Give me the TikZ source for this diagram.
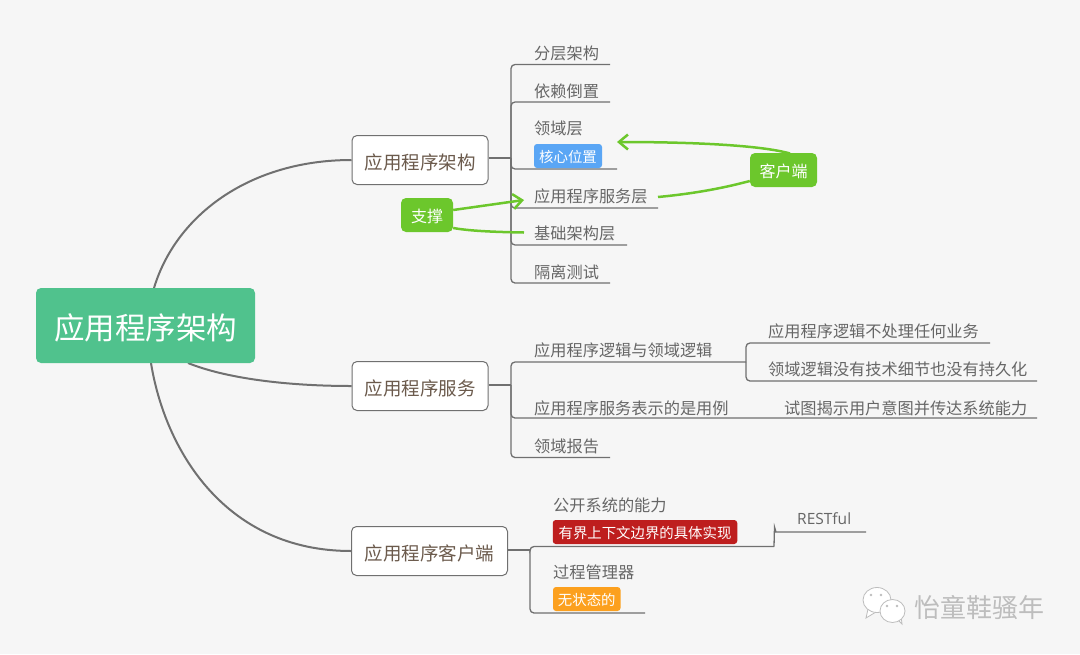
\documentclass[tikz,border=0pt]{standalone}
\usepackage{fontspec}
\setmainfont{Noto Sans CJK SC}
\newfontfamily\latinf{Open Sans}
\usetikzlibrary{arrows.meta}
\definecolor{bgc}{HTML}{F6F6F6}
\definecolor{rootc}{HTML}{50C28D}
\definecolor{linec}{HTML}{707070}
\definecolor{leaftext}{HTML}{666666}
\definecolor{maintext}{HTML}{6B5A4C}
\definecolor{greenc}{HTML}{6CC72C}
\definecolor{bluec}{HTML}{5AA6F5}
\definecolor{redc}{HTML}{BE1E1E}
\definecolor{orangec}{HTML}{FCA01E}
\definecolor{wmgray}{HTML}{BDBDBD}
\newcommand\lowertwo[1]{\raisebox{-2pt}[\height][\depth]{#1}}
\newcommand\lowerone[1]{\raisebox{-1pt}[\height][\depth]{#1}}
\tikzset{
  rootbox/.style={fill=rootc,rounded corners=5pt,text=white,font=\fontsize{30.5}{32}\selectfont,minimum width=219pt,minimum height=75pt,inner sep=0pt},
  mainbox/.style={draw=linec,line width=1pt,fill=white,rounded corners=5pt,text=maintext,font=\fontsize{18.5}{20}\selectfont,minimum height=49pt,inner sep=0pt},
  leaf/.style={text=leaftext,font=\fontsize{16.2}{18}\selectfont,anchor=west,inner sep=0pt},
  tagbox/.style={rounded corners=3pt,text=white,font=\fontsize{14.4}{16}\selectfont,minimum height=24pt,inner sep=0pt},
  calloutbox/.style={fill=greenc,rounded corners=5pt,text=white,font=\fontsize{16}{18}\selectfont,minimum height=34pt,inner sep=0pt},
  bigcurve/.style={draw=linec,line width=2pt},
  stemline/.style={draw=linec,line width=2.2pt},
  branch/.style={draw=linec,line width=1.3pt,rounded corners=4pt},
  greenline/.style={draw=greenc,line width=2.5pt},
  greenarrow/.style={greenline,-{Straight Barb[length=9pt,width=15pt,line width=2.5pt]}},
}
\begin{document}
\begin{tikzpicture}[x=1pt,y=-1pt]
\useasboundingbox (0,0) rectangle (1080,654);
\fill[bgc] (0,0) rectangle (1080,654);

% curves (drawn under the root)
\coordinate (r1) at (154,288);
\coordinate (r2) at (188,363);
\coordinate (r3) at (151,363);
\node[mainbox,minimum width=136pt] (m1) at (420,160) {\lowertwo{应用程序架构}};
\node[mainbox,minimum width=136pt] (m2) at (420,386) {\lowertwo{应用程序服务}};
\node[mainbox,minimum width=156pt] (m3) at (429.5,551) {\lowertwo{应用程序客户端}};
\draw[bigcurve] (r1) .. controls (176,215) and (250,160) .. (m1.west);
\draw[bigcurve] (r2) .. controls (225,378) and (285,386) .. (m2.west);
\draw[bigcurve] (r3) .. controls (165,450) and (225,551) .. (m3.west);
\node[rootbox] (root) at (145.5,325.5) {\lowertwo{应用程序架构}};

% branch 1
\coordinate (s1) at (511,158);
\coordinate (e11) at (610,64.5);
\coordinate (e12) at (610,102);
\coordinate (e13) at (617,169);
\coordinate (e14) at (658,208);
\coordinate (e15) at (627,245);
\coordinate (e16) at (610,283);
\draw[stemline] (m1.east |- s1) -- (s1);
\draw[branch] (s1) |- (e11);
\draw[branch] (s1) |- (e12);
\draw[branch] (s1) |- (e13);
\draw[branch] (s1) |- (e14);
\draw[branch] (s1) |- (e15);
\draw[branch] (s1) |- (e16);
\node[leaf] (l11) at (534,53) {分层架构};
\node[leaf] (l12) at (534,91) {依赖倒置};
\node[leaf] (l13) at (534,128) {领域层};
\node[tagbox,fill=bluec,minimum width=68pt] (t13) at (568,156) {\lowerone{核心位置}};
\node[leaf] (l14) at (534,196) {应用程序服务层};
\node[leaf] (l15) at (534,233) {基础架构层};
\node[leaf] (l16) at (534,272) {隔离测试};

% branch 2
\coordinate (s2) at (511,385);
\coordinate (e21) at (746,362);
\coordinate (e22) at (1037,418);
\coordinate (e23) at (610,457.5);
\coordinate (s21) at (746,362);
\coordinate (e211) at (990,343);
\coordinate (e212) at (1037,381);
\draw[stemline] (m2.east |- s2) -- (s2);
\draw[branch] (s2) |- (e21);
\draw[branch] (s2) |- (e22);
\draw[branch] (s2) |- (e23);
\draw[branch] (s21) |- (e211);
\draw[branch] (s21) |- (e212);
\node[leaf] (l21) at (534,350) {应用程序逻辑与领域逻辑};
\node[leaf] (l211) at (768,331) {应用程序逻辑不处理任何业务};
\node[leaf] (l212) at (768,369) {领域逻辑没有技术细节也没有持久化};
\node[leaf] (l22) at (534,408) {应用程序服务表示的是用例};
\node[leaf] (l221) at (784,408) {试图揭示用户意图并传达系统能力};
\node[leaf] (l23) at (534,446) {领域报告};

% branch 3
\coordinate (s3) at (530,550);
\coordinate (e31) at (774,546.5);
\coordinate (e32) at (645,613);
\coordinate (e311) at (866,532);
\draw[stemline] (m3.east |- s3) -- (s3);
\draw[branch] (s3) |- (e31);
\draw[branch] (s3) |- (e32);
\draw[draw=linec,line width=1.3pt] (e31) -- (774.5,527) -- (776,532) -- (e311);
\node[leaf] (l31) at (553,505) {公开系统的能力};
\node[tagbox,fill=redc,minimum width=184.5pt] (t31) at (645,532) {\lowerone{有界上下文边界的具体实现}};
\node[leaf,font=\latinf\fontsize{15.5}{18}\selectfont] (l311) at (797,519) {RESTful};
\node[leaf] (l32) at (553,572) {过程管理器};
\node[tagbox,fill=orangec,minimum width=67.5pt] (t32) at (586.75,599) {\lowerone{无状态的}};

% green callouts
\node[calloutbox,minimum width=52pt] (c1) at (427,215) {\lowerone{支撑}};
\node[calloutbox,minimum width=67pt] (c2) at (783.5,170) {\lowerone{客户端}};
\coordinate (a1) at (524,200);
\coordinate (a2) at (524,232.5);
\coordinate (a3) at (617,142);
\coordinate (a4) at (658,197);
\coordinate (c2top) at (790,153.5);
\draw[greenarrow] (c1.east |- 0,210) -- (a1);
\draw[greenline] (c1.east |- 0,228) .. controls (470,231) and (495,232) .. (a2);
\draw[greenarrow] (c2top) .. controls (760,145) and (690,142) .. (a3);
\draw[greenline] (c2.west |- 0,181) .. controls (720,189) and (690,194) .. (a4);

% watermark
\begin{scope}[draw=wmgray,fill=white,line width=0.8pt]
\path[draw,fill] (868,609) -- (866,618) -- (876,612) -- cycle;
\path[draw,fill] (877,600) ellipse [x radius=14,y radius=12.5];
\path[draw,fill] (897,619) -- (902,624) -- (901,616) -- cycle;
\path[draw,fill] (892.5,611) ellipse [x radius=12.5,y radius=11.5];
\end{scope}
\fill[wmgray] (871,595) circle (1.3) (881,595) circle (1.3) (887,606) circle (1.3) (897,606) circle (1.3);
\node[text=wmgray,font=\fontsize{26}{28}\selectfont,anchor=west,inner sep=0pt] (wm) at (914,608) {怡童鞋骚年};
\end{tikzpicture}
\end{document}
